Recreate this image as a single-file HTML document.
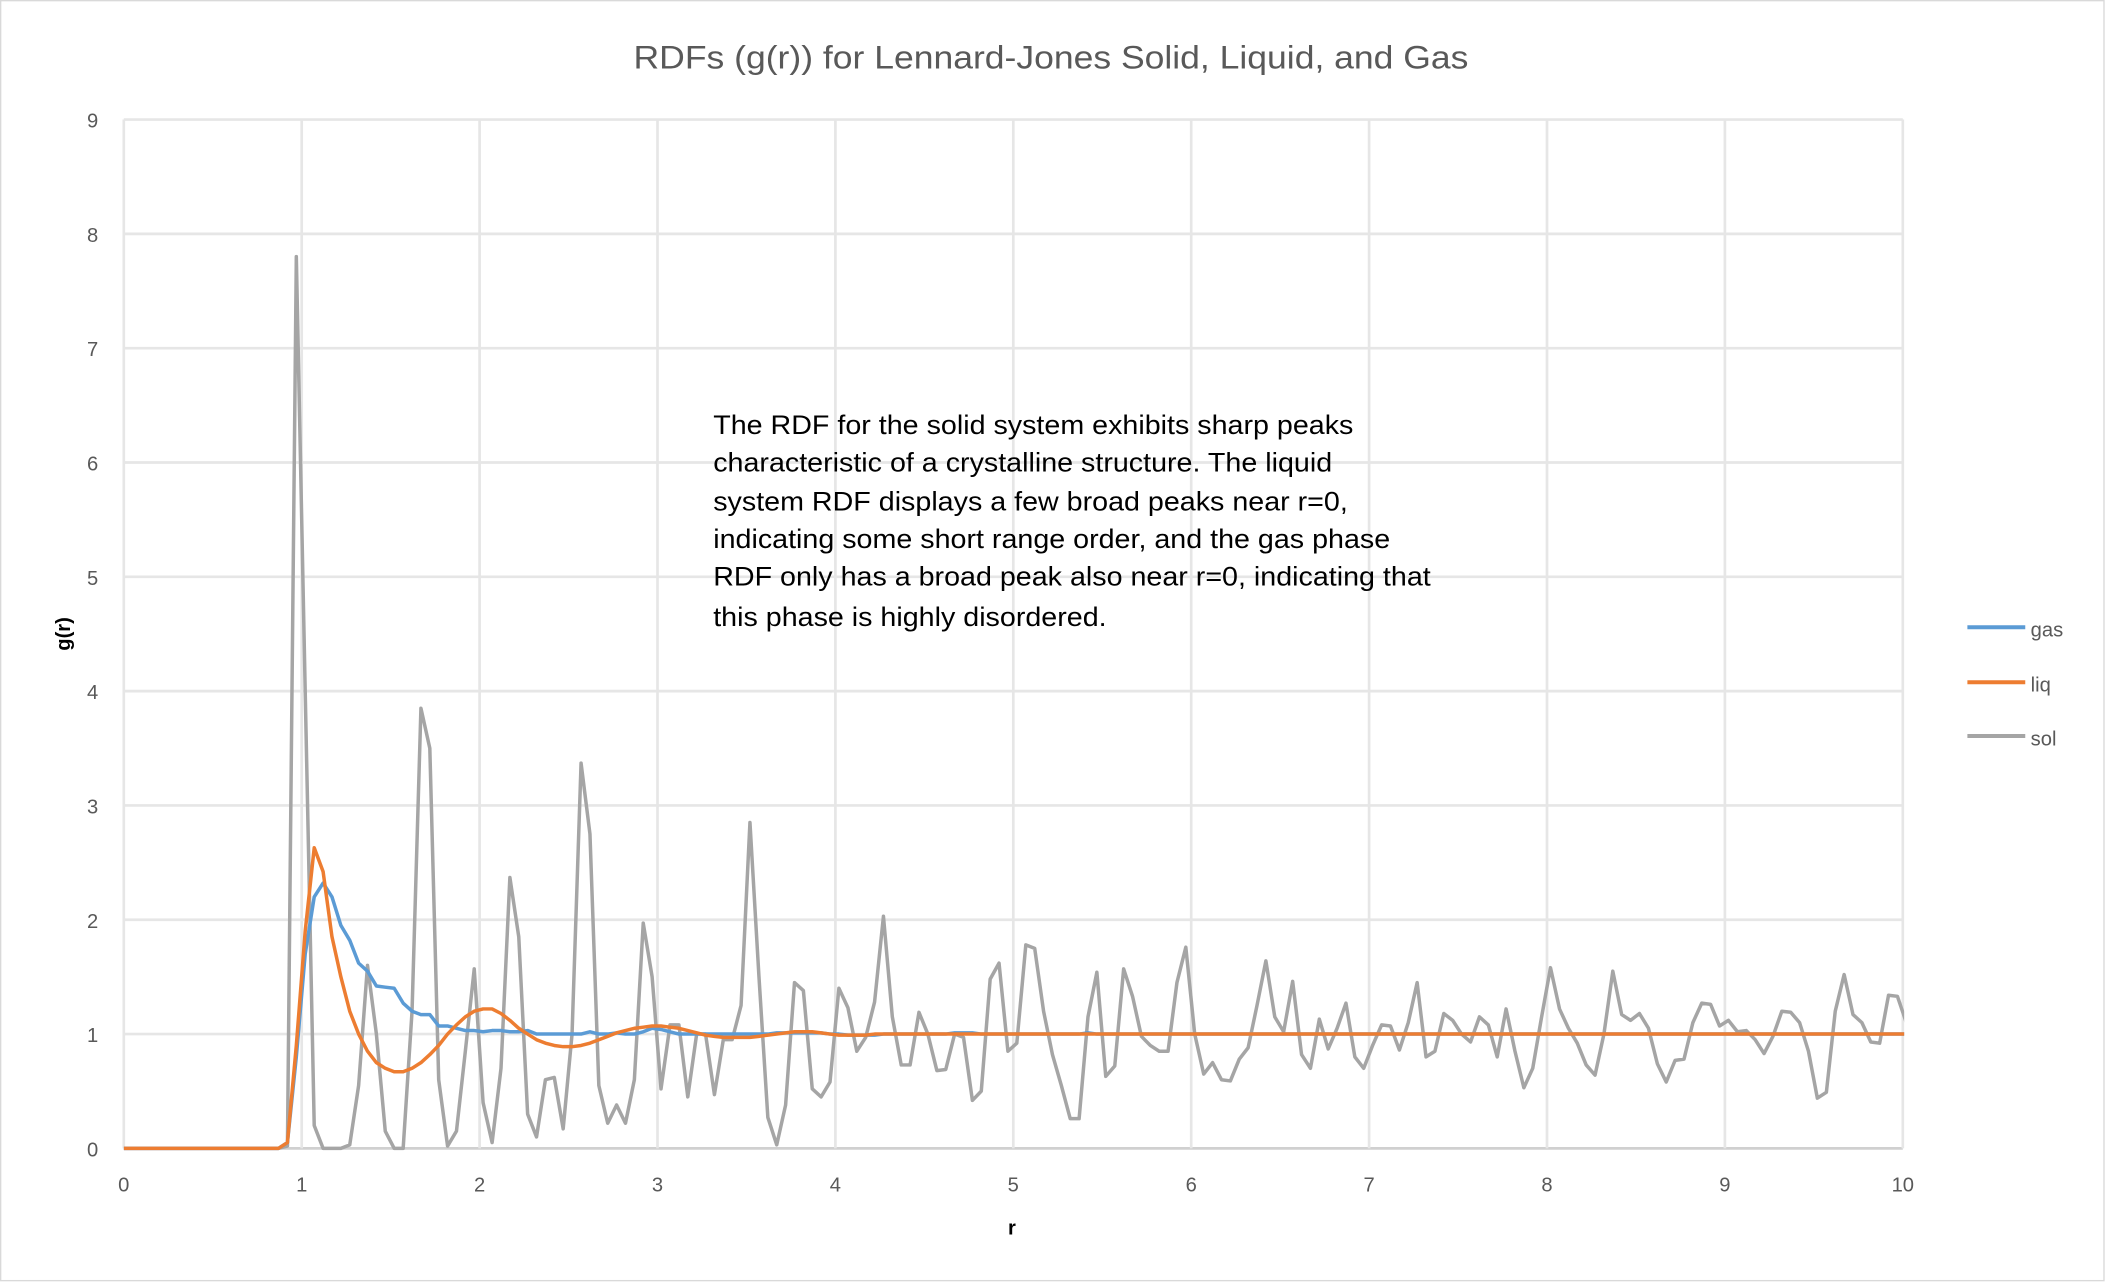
<!DOCTYPE html>
<html><head><meta charset="utf-8"><style>
html,body{margin:0;padding:0;background:#fff;}
svg{display:block;font-family:"Liberation Sans",sans-serif;}
</style></head><body>
<svg id="chart" width="2106" height="1284" viewBox="0 0 1565 956" preserveAspectRatio="none" xmlns="http://www.w3.org/2000/svg">
<rect x="0.5" y="0.5" width="1563" height="953" fill="#fff" stroke="#d9d9d9"/>
<text x="0" y="51" transform="translate(781,0) scale(1.10,1)" text-anchor="middle" font-size="24" fill="#595959">RDFs (g(r)) for Lennard-Jones Solid, Liquid, and Gas</text>
<g id="grid"></g>
<g id="ticks"></g>
<defs><clipPath id="clip"><rect x="92" y="80" width="1323" height="780"/></clipPath></defs>
<g id="series" clip-path="url(#clip)"></g>
<text x="752" y="919" text-anchor="middle" font-size="15" font-weight="bold" fill="#000">r</text>
<text transform="translate(52,472) rotate(-90)" text-anchor="middle" font-size="15" font-weight="bold" fill="#000">g(r)</text>
<g font-size="20" fill="#000" transform="translate(530,0) scale(1.065,1)">
<text x="0" y="323">The RDF for the solid system exhibits sharp peaks</text>
<text x="0" y="351">characteristic of a crystalline structure. The liquid</text>
<text x="0" y="380">system RDF displays a few broad peaks near r=0,</text>
<text x="0" y="408">indicating some short range order, and the gas phase</text>
<text x="0" y="436">RDF only has a broad peak also near r=0, indicating that</text>
<text x="0" y="466">this phase is highly disordered.</text>
</g>
<g>
<g><line x1="1462" y1="467" x2="1505" y2="467" stroke="#5b9bd5" stroke-width="3"/><text x="1509" y="474" font-size="15" fill="#595959">gas</text></g>
<g><line x1="1462" y1="508" x2="1505" y2="508" stroke="#ed7d31" stroke-width="3"/><text x="1509" y="515" font-size="15" fill="#595959">liq</text></g>
<g><line x1="1462" y1="548" x2="1505" y2="548" stroke="#a5a5a5" stroke-width="3"/><text x="1509" y="555" font-size="15" fill="#595959">sol</text></g>
</g>
</svg>
<script>
const xTicks = [0,1,2,3,4,5,6,7,8,9,10];
const yTicks = [0,1,2,3,4,5,6,7,8,9];
const rStart = 0.02;
const rStep = 0.05;
const gas = [0,0,0,0,0,0,0,0,0,0,0,0,0,0,0,0,0,0,
0.05,0.8,1.7,2.2,2.32,2.2,1.95,1.82,1.62,1.55,1.42,1.41,1.4,1.27,1.2,1.17,1.17,1.07,1.07,1.05,1.03,1.03,
1.02,1.03,1.03,1.02,1.02,1.03,1.0,1.0,1.0,1.0,1.0,1.0,1.02,1.0,1.0,1.01,1.0,1.0,1.02,1.05,
1.04,1.02,1.0,1.0,1.0,1.0,1.0,1.0,1.0,1.0,1.0,1.0,1.0,1.01,1.01,1.01,1.01,1.01,1.01,1.0,
1.0,0.99,0.99,0.99,0.99,1.0,1.0,1.0,1.0,1.0,1.0,1.0,1.0,1.01,1.01,1.01,1.0,1.0,1.0,1.0,
1.0,1.0,1.0,1.0,1.0,1.0,1.0,1.0,1.01,1.0,1.0,1.0,1.0,1.0,1.0,1.0,1.0,1.0,1.0,1.0,
1.0,1.0,1.0,1.0,1.0,1.0,1.0,1.0,1.0,1.0,1.0,1.0,1.0,1.0,1.0,1.0,1.0,1.0,1.0,1.0,
1.0,1.0,1.0,1.0,1.0,1.0,1.0,1.0,1.0,1.0,1.0,1.0,1.0,1.0,1.0,1.0,1.0,1.0,1.0,1.0,
1.0,1.0,1.0,1.0,1.0,1.0,1.0,1.0,1.0,1.0,1.0,1.0,1.0,1.0,1.0,1.0,1.0,1.0,1.0,1.0,
1.0,1.0,1.0,1.0,1.0,1.0,1.0,1.0,1.0,1.0,1.0,1.0,1.0,1.0,1.0,1.0,1.0,1.0,1.0,1.0,
1.0,1.0];
const liq = [0,0,0,0,0,0,0,0,0,0,0,0,0,0,0,0,0,0,
0.05,0.9,1.9,2.63,2.42,1.85,1.5,1.2,1.0,0.85,0.75,0.7,0.67,0.67,0.7,0.75,0.82,0.9,1.0,1.08,1.15,1.2,
1.22,1.22,1.18,1.12,1.05,1.0,0.95,0.92,0.9,0.89,0.89,0.9,0.92,0.95,0.98,1.01,1.03,1.05,1.06,1.07,
1.07,1.06,1.05,1.03,1.01,0.99,0.98,0.97,0.97,0.97,0.97,0.98,0.99,1.0,1.01,1.02,1.02,1.02,1.01,1.0,
0.99,0.99,0.99,0.99,1.0,1.0,1.0,1.0,1.0,1.0,1.0,1.0,1.0,1.0,1.0,1.0,1.0,1.0,1.0,1.0,
1.0,1.0,1.0,1.0,1.0,1.0,1.0,1.0,1.0,1.0,1.0,1.0,1.0,1.0,1.0,1.0,1.0,1.0,1.0,1.0,
1.0,1.0,1.0,1.0,1.0,1.0,1.0,1.0,1.0,1.0,1.0,1.0,1.0,1.0,1.0,1.0,1.0,1.0,1.0,1.0,
1.0,1.0,1.0,1.0,1.0,1.0,1.0,1.0,1.0,1.0,1.0,1.0,1.0,1.0,1.0,1.0,1.0,1.0,1.0,1.0,
1.0,1.0,1.0,1.0,1.0,1.0,1.0,1.0,1.0,1.0,1.0,1.0,1.0,1.0,1.0,1.0,1.0,1.0,1.0,1.0,
1.0,1.0,1.0,1.0,1.0,1.0,1.0,1.0,1.0,1.0,1.0,1.0,1.0,1.0,1.0,1.0,1.0,1.0,1.0,1.0,
1.0,1.0];
const sol = [0,0,0,0,0,0,0,0,0,0,0,0,0,0,0,0,0,0,
0.02,7.8,4.0,0.2,0,0,0,0.03,0.55,1.6,1.0,0.15,0,0,1.2,3.85,3.5,0.6,0.02,0.15,0.85,1.57,
0.4,0.05,0.7,2.37,1.85,0.3,0.1,0.6,0.62,0.17,1.0,3.37,2.75,0.55,0.22,0.38,0.22,0.6,1.97,1.5,
0.52,1.08,1.08,0.45,1.0,1.0,0.47,0.95,0.95,1.25,2.85,1.5,0.27,0.03,0.38,1.45,1.38,0.52,0.45,0.58,
1.4,1.23,0.85,0.97,1.28,2.03,1.15,0.73,0.73,1.19,1.0,0.68,0.69,1.0,0.97,0.42,0.5,1.48,1.62,0.85,
0.92,1.78,1.75,1.2,0.82,0.55,0.26,0.26,1.15,1.54,0.63,0.72,1.57,1.33,0.98,0.9,0.85,0.85,1.45,1.76,
1.0,0.65,0.75,0.6,0.59,0.78,0.88,1.25,1.64,1.15,1.02,1.46,0.82,0.7,1.13,0.87,1.05,1.27,0.8,0.7,
0.9,1.08,1.07,0.86,1.1,1.45,0.8,0.85,1.18,1.12,1.0,0.93,1.15,1.08,0.8,1.22,0.85,0.53,0.7,1.15,
1.58,1.22,1.05,0.92,0.73,0.64,1.0,1.55,1.17,1.12,1.18,1.05,0.74,0.58,0.77,0.78,1.1,1.27,1.26,1.07,
1.12,1.02,1.03,0.95,0.83,0.98,1.2,1.19,1.1,0.85,0.44,0.49,1.2,1.52,1.17,1.1,0.93,0.92,1.34,1.33,
1.1];

const NS = "http://www.w3.org/2000/svg";
const X0 = 92, X1 = 1414, Y0 = 855, Y1 = 89;
function xs(v){ return X0 + (v - 0) / 10 * (X1 - X0); }
function ys(v){ return Y0 - v / 9 * (Y0 - Y1); }

const grid = document.getElementById('grid');
const ticks = document.getElementById('ticks');
yTicks.forEach(t => {
  const l = document.createElementNS(NS, 'line');
  l.setAttribute('x1', X0); l.setAttribute('x2', X1);
  l.setAttribute('y1', ys(t)); l.setAttribute('y2', ys(t));
  l.setAttribute('stroke', t === 0 ? '#d0d0d0' : '#e6e6e6');
  l.setAttribute('stroke-width', '2');
  
  
  grid.appendChild(l);
  const tx = document.createElementNS(NS, 'text');
  tx.setAttribute('x', 73); tx.setAttribute('y', ys(t) + 6);
  tx.setAttribute('text-anchor', 'end');
  tx.setAttribute('font-size', '15'); tx.setAttribute('fill', '#595959');
  tx.textContent = t;
  
  
  ticks.appendChild(tx);
});
xTicks.forEach(t => {
  const l = document.createElementNS(NS, 'line');
  l.setAttribute('x1', xs(t)); l.setAttribute('x2', xs(t));
  l.setAttribute('y1', Y1); l.setAttribute('y2', Y0);
  l.setAttribute('stroke', '#e6e6e6');
  l.setAttribute('stroke-width', '2');
  
  
  grid.appendChild(l);
  const tx = document.createElementNS(NS, 'text');
  tx.setAttribute('x', xs(t)); tx.setAttribute('y', 887);
  tx.setAttribute('text-anchor', 'middle');
  tx.setAttribute('font-size', '15'); tx.setAttribute('fill', '#595959');
  tx.textContent = t;
  
  
  ticks.appendChild(tx);
});

const series = document.getElementById('series');
function drawSeries(vals, color, name){
  let d = 'M' + xs(0) + ',' + ys(0);
  vals.forEach((v, i) => { d += ' L' + xs(rStart + i * rStep).toFixed(1) + ',' + ys(v).toFixed(1); });
  const p = document.createElementNS(NS, 'path');
  p.setAttribute('d', d);
  p.setAttribute('fill', 'none');
  p.setAttribute('stroke', color);
  p.setAttribute('stroke-width', '2.6');
  p.setAttribute('stroke-linejoin', 'round');
  
  
  series.appendChild(p);
}
drawSeries(sol, '#a5a5a5', 'sol-line');
drawSeries(gas, '#5b9bd5', 'gas-line');
drawSeries(liq, '#ed7d31', 'liq-line');
</script>
</body></html>
